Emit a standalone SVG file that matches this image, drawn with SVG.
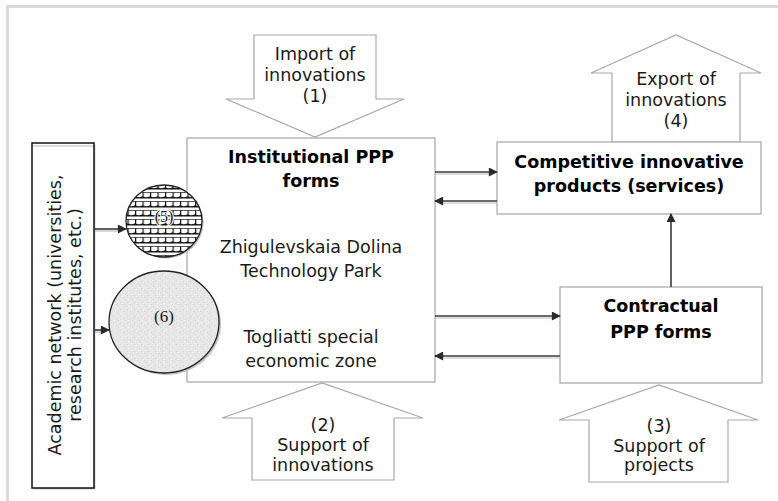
<svg xmlns="http://www.w3.org/2000/svg" width="778" height="501" viewBox="0 0 778 501">
  <defs>
    <style>
      .t{font-family:"DejaVu Sans","Verdana",sans-serif;font-size:17.5px;fill:#1a1a1a;text-anchor:middle}
      .b{font-weight:bold;fill:#000}
      .ser{font-family:"Liberation Serif","Times New Roman",serif;fill:#1a1a1a;text-anchor:middle}
      .box{fill:#fff;stroke:#a6a6a6;stroke-width:1.2}
      .blk{fill:#fff;stroke:#a8a8a8;stroke-width:1.2}
      .ln{stroke:#3a3a3a;stroke-width:1.6;fill:none}
      .sh{stroke:#bdbdbd;stroke-width:1.2;fill:none}
    </style>
    <marker id="ah" viewBox="0 0 10 10" refX="9" refY="5" markerWidth="10" markerHeight="9" markerUnits="userSpaceOnUse" orient="auto">
      <path d="M0,0 L10,5 L0,10 Z" fill="#2a2a2a"/>
    </marker>
    <pattern id="scallop" width="7.5" height="9" patternUnits="userSpaceOnUse" x="0" y="1">
      <rect width="7.5" height="9" fill="#fff"/>
      <path d="M0,6.2 Q3.75,8.2 7.5,6.2 V8.4 H0 Z" fill="#111"/>
      <rect x="0" y="2" width="1.2" height="5" fill="#111"/>
      <rect x="0" y="2" width="7.5" height="0.8" fill="#333"/>
    </pattern>
    <pattern id="speck" width="7" height="7" patternUnits="userSpaceOnUse">
      <rect width="7" height="7" fill="#e6e6e6"/>
      <rect x="1" y="1" width="1" height="1" fill="#d4d4d4"/>
      <rect x="4" y="3" width="1" height="1" fill="#d6d6d6"/>
      <rect x="2" y="5" width="1" height="1" fill="#f4f4f4"/>
      <rect x="5" y="0" width="1" height="1" fill="#f2f2f2"/>
      <rect x="6" y="5" width="1" height="1" fill="#d9d9d9"/>
      <rect x="3" y="2" width="1" height="1" fill="#f6f6f6"/>
    </pattern>
  </defs>

  <!-- outer frame -->
  <path d="M7.5,501 V6.5 H778" fill="none" stroke="#d9d9d9" stroke-width="3"/>

  <!-- big block arrows -->
  <g id="import-arrow">
    <polygon points="254,35 376,35 376,99 404,99 315,137 226,99 254,99" class="blk"/>
    <text class="t" x="315" y="60">Import of</text>
    <text class="t" x="315" y="81">innovations</text>
    <text class="t" x="315" y="102">(1)</text>
  </g>
  <g id="export-arrow">
    <polygon points="612,142 612,73 591,73 676,35 761,73 740,73 740,142" class="blk"/>
    <text class="t" x="676" y="85">Export of</text>
    <text class="t" x="676" y="106">innovations</text>
    <text class="t" x="676" y="127">(4)</text>
  </g>
  <g id="support-innovations-arrow">
    <polygon points="252,480 252,418 222,418 322,383 423,418 394,418 394,480" class="blk"/>
    <text class="t" x="323" y="431">(2)</text>
    <text class="t" x="323" y="451">Support of</text>
    <text class="t" x="323" y="471">innovations</text>
  </g>
  <g id="support-projects-arrow">
    <polygon points="589,482 589,420 559,420 659,385 758,420 728,420 728,482" class="blk"/>
    <text class="t" x="659" y="432">(3)</text>
    <text class="t" x="659" y="452">Support of</text>
    <text class="t" x="659" y="471">projects</text>
  </g>

  <!-- academic network -->
  <g id="academic">
    <rect x="33.5" y="144.5" width="62" height="345" fill="#cfcfcf"/>
    <rect x="32" y="143" width="62" height="345" fill="#fff" stroke="#111" stroke-width="1.5"/>
    <line x1="33" y1="146" x2="93" y2="146" stroke="#bbb" stroke-width="1"/>
    <text class="t" transform="translate(61,315) rotate(-90)">Academic network (universities,</text>
    <text class="t" transform="translate(81,315) rotate(-90)">research institutes, etc.)</text>
  </g>

  <!-- institutional -->
  <g id="institutional">
    <rect x="187" y="138" width="248" height="244" class="box"/>
    <text class="t b" x="311" y="163">Institutional PPP</text>
    <text class="t b" x="311" y="187">forms</text>
    <text class="t" x="311" y="253">Zhigulevskaia Dolina</text>
    <text class="t" x="311" y="277">Technology Park</text>
    <text class="t" x="311" y="343">Togliatti special</text>
    <text class="t" x="311" y="367">economic zone</text>
  </g>

  <!-- circles -->
  <g id="circle5">
    <ellipse cx="165.5" cy="222.5" rx="38" ry="36" fill="#bbb"/>
    <ellipse cx="164" cy="221" rx="38" ry="36" fill="url(#scallop)" stroke="#222" stroke-width="1.3"/>
    <text class="ser" x="164" y="222" font-size="16" stroke="#fff" stroke-width="2" paint-order="stroke">(5)</text>
  </g>
  <g id="circle6">
    <ellipse cx="166" cy="324" rx="55" ry="51" fill="#c4c4c4"/>
    <ellipse cx="164" cy="322" rx="55" ry="51" fill="url(#speck)" stroke="#222" stroke-width="1.3"/>
    <text class="ser" x="164" y="322" font-size="17">(6)</text>
  </g>

  <!-- competitive -->
  <g id="competitive">
    <rect x="497" y="142" width="264" height="72" class="box"/>
    <text class="t b" x="629" y="168">Competitive innovative</text>
    <text class="t b" x="629" y="192">products (services)</text>
  </g>

  <!-- contractual -->
  <g id="contractual">
    <rect x="560" y="287" width="202" height="96" class="box"/>
    <text class="t b" x="661" y="312" font-size="19">Contractual</text>
    <text class="t b" x="661" y="338" font-size="19">PPP forms</text>
  </g>

  <!-- connectors -->
  <g id="connectors">
    <line class="sh" x1="95" y1="231" x2="122" y2="231"/>
    <line class="ln" x1="94" y1="229" x2="126" y2="229" marker-end="url(#ah)"/>
    <line class="sh" x1="95" y1="332" x2="106" y2="332"/>
    <line class="ln" x1="94" y1="330" x2="109" y2="330" marker-end="url(#ah)"/>

    <line class="sh" x1="436" y1="174" x2="492" y2="174"/>
    <line class="ln" x1="435" y1="172" x2="497" y2="172" marker-end="url(#ah)"/>
    <line class="sh" x1="440" y1="203" x2="497" y2="203"/>
    <line class="ln" x1="497" y1="201" x2="435" y2="201" marker-end="url(#ah)"/>

    <line class="sh" x1="436" y1="318" x2="555" y2="318"/>
    <line class="ln" x1="435" y1="316" x2="560" y2="316" marker-end="url(#ah)"/>
    <line class="sh" x1="440" y1="358" x2="560" y2="358"/>
    <line class="ln" x1="560" y1="356" x2="435" y2="356" marker-end="url(#ah)"/>

    <line class="ln" x1="671" y1="287" x2="671" y2="214" marker-end="url(#ah)"/>
  </g>
</svg>
